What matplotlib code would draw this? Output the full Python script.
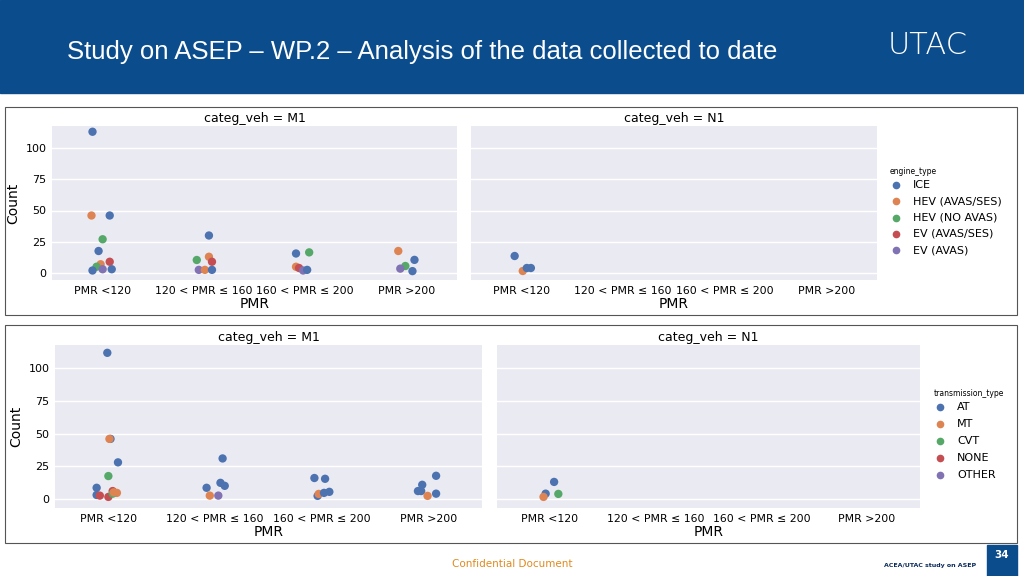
import matplotlib
matplotlib.use("Agg")
import matplotlib.pyplot as plt
from matplotlib.patches import Rectangle
from matplotlib.lines import Line2D

W, H = 1024, 576
categories = ["PMR <120", "120 < PMR ≤ 160", "160 < PMR ≤ 200", "PMR >200"]
engine_types = ["ICE", "HEV (AVAS/SES)", "HEV (NO AVAS)", "EV (AVAS/SES)", "EV (AVAS)"]
trans_types = ["AT", "MT", "CVT", "NONE", "OTHER"]
colors = ["#4C72B0", "#DD8452", "#55A868", "#C44E52", "#8172B3"]

# (category index, jitter, type index, count)
eng_m1_cat = [0,0,0,0,0,0,0,0,0,0,0, 1,1,1,1,1,1,1, 2,2,2,2,2,2, 3,3,3,3,3]
eng_m1_jit = [-0.10,-0.11,0.07,0.00,-0.04,0.07,-0.02,-0.06,-0.10,0.00,0.09,
              -0.07,0.05,0.08,0.05,-0.05,0.01,0.08,
              -0.09,0.04,-0.09,-0.06,-0.02,0.02,
              -0.08,0.08,-0.01,-0.06,0.06]
eng_m1_typ = [0,1,0,2,0,3,1,2,0,4,0, 2,1,3,0,4,1,0, 0,2,1,3,4,0, 1,0,2,4,0]
eng_m1_val = [113,46,46,27,17.6,9,7,5,2,3,3, 10.4,13,9,30,2.5,2.5,2.5, 15.6,16.5,5,4,2,2.5, 17.6,10.5,5.6,3.5,1.5]
eng_n1_cat = [0,0,0,0]
eng_n1_jit = [-0.07,0.01,0.05,0.09]
eng_n1_typ = [0,1,0,0]
eng_n1_val = [13.6,1.6,4,4]

tr_m1_cat = [0,0,0,0,0,0,0,0,0,0,0,0,0, 1,1,1,1,1,1, 2,2,2,2,2,2, 3,3,3,3,3,3]
tr_m1_jit = [-0.01,0.02,0.01,0.09,0.00,-0.11,-0.11,-0.08,0.00,0.04,0.08,0.04,0.05,
             -0.08,0.07,0.05,0.09,-0.05,0.03,
             -0.07,0.03,-0.04,-0.03,0.02,0.07,
             0.07,-0.06,-0.10,-0.07,-0.01,0.07]
tr_m1_typ = [0,0,1,0,2,0,0,3,3,3,1,2,1, 0,0,0,0,1,4, 0,0,0,1,0,0, 0,0,0,0,1,0]
tr_m1_val = [112,46,46,28,17.5,8.5,3,2.5,1.5,6,4.6,4,5, 8.5,31,12.3,10,2.5,2.5, 16,15.4,2.3,3.8,4.6,5.4, 17.7,10.8,6,6,2.3,4]
tr_n1_cat = [0,0,0,0]
tr_n1_jit = [0.04,-0.04,-0.06,0.08]
tr_n1_typ = [0,0,1,2]
tr_n1_val = [13,4,1.5,3.8]

fig = plt.figure(figsize=(W/100, H/100), dpi=100)
fig.patch.set_facecolor("white")

def fx(x): return x / W
def fy(y): return 1 - y / H

fig.patches.append(Rectangle((0, fy(93)), 1, 93/H, transform=fig.transFigure, color="#0B4C8C", zorder=0))
fig.text(fx(67), fy(52), "Study on ASEP – WP.2 – Analysis of the data collected to date",
         color="white", fontsize=18.5, va="center", family="Liberation Sans")
fig.text(fx(928), fy(46), "UTAC", color="white", fontsize=22, va="center", ha="center",
         family="DejaVu Sans", fontweight="light")
for (x0, y0, x1, y1) in [(5, 107, 1017, 315), (5, 325, 1017, 543)]:
    fig.patches.append(Rectangle((fx(x0), fy(y1)), (x1-x0)/W, (y1-y0)/H, transform=fig.transFigure,
                                 fill=False, edgecolor="#555555", lw=0.8))
fig.text(fx(512), fy(564), "Confidential Document", color="#E08A1E", fontsize=7.5, ha="center", va="center")
fig.patches.append(Rectangle((fx(987), 0), 30/W, 31/H, transform=fig.transFigure, color="#0B4C8C"))
fig.text(fx(1002), fy(555), "34", color="white", fontsize=7.5, ha="center", va="center", fontweight="bold")
fig.text(fx(930), fy(565), "ACEA/UTAC study on ASEP", color="#0B2A5C", fontsize=4.5, ha="center", va="center", fontweight="bold")

def make_ax(x0, y0, x1, y1, title, cat, jit, typ, val, ylim, leftlabels):
    ax = fig.add_axes([fx(x0), fy(y1), (x1-x0)/W, (y1-y0)/H])
    ax.set_facecolor("#EAEAF2")
    for s in ax.spines.values():
        s.set_visible(False)
    ax.grid(axis="y", color="white", lw=1)
    ax.set_axisbelow(True)
    xs = [c + j for c, j in zip(cat, jit)]
    ax.scatter(xs, val, c=[colors[t] for t in typ], s=36, zorder=3, linewidths=0)
    ax.set_xlim(-0.5, 3.5)
    ax.set_ylim(*ylim)
    ax.set_yticks([0, 25, 50, 75, 100])
    ax.set_xticks(range(4))
    ax.set_xticklabels(categories, fontsize=7.8)
    ax.tick_params(length=0, pad=4)
    if leftlabels:
        ax.set_ylabel("Count", fontsize=10)
        ax.tick_params(axis="y", labelsize=8)
    else:
        ax.set_yticklabels([])
    ax.set_xlabel("PMR", fontsize=10, labelpad=1)
    ax.set_title(title, fontsize=9, pad=3)
    return ax

make_ax(52, 126, 457, 280, "categ_veh = M1", eng_m1_cat, eng_m1_jit, eng_m1_typ, eng_m1_val, (-5.6, 117.6), True)
make_ax(471, 126, 877, 280, "categ_veh = N1", eng_n1_cat, eng_n1_jit, eng_n1_typ, eng_n1_val, (-5.6, 117.6), False)
make_ax(55, 345, 482, 508, "categ_veh = M1", tr_m1_cat, tr_m1_jit, tr_m1_typ, tr_m1_val, (-7, 118), True)
make_ax(497, 345, 920, 508, "categ_veh = N1", tr_n1_cat, tr_n1_jit, tr_n1_typ, tr_n1_val, (-7, 118), False)

def legend(x, y, title, labels, spacing):
    fig.text(fx(x), fy(y), title, fontsize=5.5, va="center")
    for i, lab in enumerate(labels):
        yy = y + 14 + i * spacing
        fig.add_artist(Line2D([fx(x + 6)], [fy(yy)], marker="o", color=colors[i], markersize=4.5,
                              transform=fig.transFigure, linestyle="none"))
        fig.text(fx(x + 23), fy(yy), lab, fontsize=8, va="center")

legend(890, 171, "engine_type", engine_types, 16.3)
legend(934, 393, "transmission_type", trans_types, 17)

fig.savefig("out.png", dpi=100)
